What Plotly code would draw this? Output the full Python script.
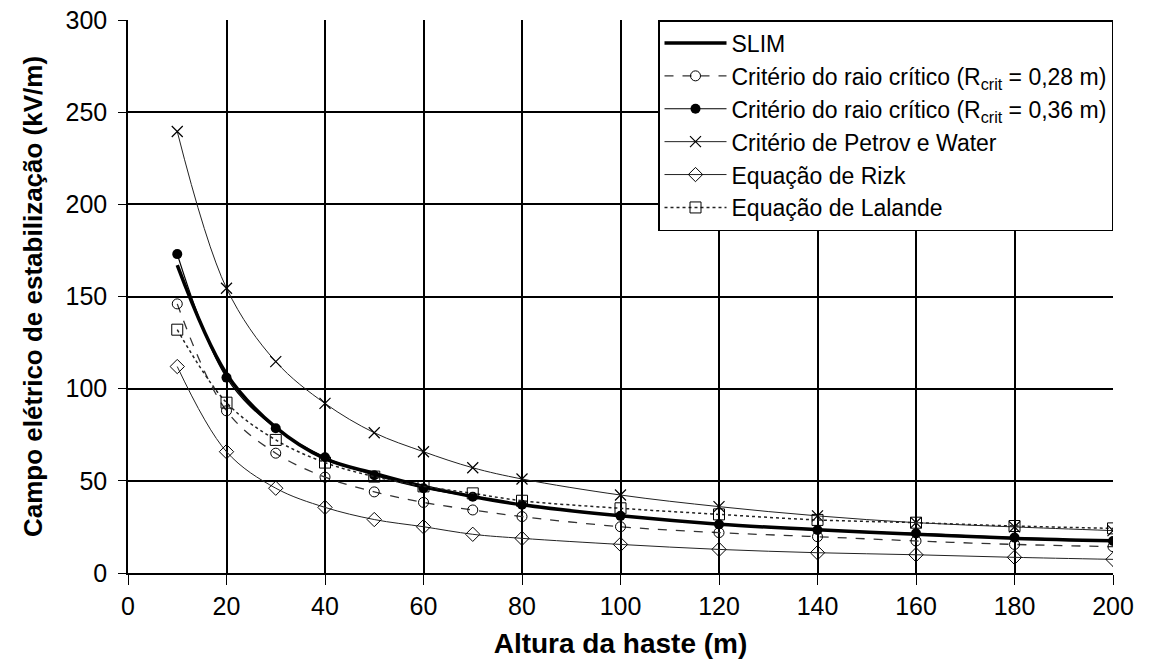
import plotly.graph_objects as go

x_vals = [10, 20, 30, 40, 50, 60, 70, 80, 100, 120, 140, 160, 180, 200]
slim = [167, 108, 79, 62, 54, 47, 41.5, 37, 31, 26.5, 23.5, 21, 18.8, 17.5]
rcrit_028 = [146, 88, 65, 52, 44, 38.3, 34.2, 30.6, 25.1, 21.9, 19.7, 17.4, 15.5, 14.3]
rcrit_036 = [173, 106, 78.5, 62.8, 53, 46, 41.4, 37, 31, 26.4, 23.3, 21.5, 19.2, 17.4]
petrov = [239.5, 154.5, 114.7, 92, 76.1, 65.8, 57.1, 51, 42.3, 36, 31, 27.3, 25, 23]
rizk = [112, 65.8, 46, 35.6, 29, 25.1, 21, 18.8, 15.5, 12.8, 11, 9.9, 8.5, 7.4]
lalande = [132, 92.4, 72.2, 59.9, 52.3, 47, 43.2, 39.2, 35.1, 31.8, 28.8, 27.3, 25.5, 24.2]

x_ticks = list(range(0, 201, 20))
y_ticks = list(range(0, 301, 50))

fig = go.Figure()

fig.add_trace(go.Scatter(x=x_vals, y=slim, mode="lines", name="SLIM",
                         line=dict(color="black", width=3.5, shape="spline")))
fig.add_trace(go.Scatter(x=x_vals, y=rcrit_028, mode="lines+markers",
                         name="Critério do raio crítico (R<sub>crit</sub> = 0,28 m)",
                         line=dict(color="#333333", width=1.3, dash="dash", shape="spline"),
                         marker=dict(symbol="circle-open", size=10, color="black", line=dict(width=1))))
fig.add_trace(go.Scatter(x=x_vals, y=rcrit_036, mode="lines+markers",
                         name="Critério do raio crítico (R<sub>crit</sub> = 0,36 m)",
                         line=dict(color="black", width=1.2, shape="spline"),
                         marker=dict(symbol="circle", size=10, color="black")))
fig.add_trace(go.Scatter(x=x_vals, y=petrov, mode="lines+markers",
                         name="Critério de Petrov e Water",
                         line=dict(color="#222222", width=1, shape="spline"),
                         marker=dict(symbol="x-thin-open", size=11, color="black", line=dict(width=1.2))))
fig.add_trace(go.Scatter(x=x_vals, y=rizk, mode="lines+markers",
                         name="Equação de Rizk",
                         line=dict(color="#222222", width=1, shape="spline"),
                         marker=dict(symbol="diamond-open", size=11, color="black", line=dict(width=1))))
fig.add_trace(go.Scatter(x=x_vals, y=lalande, mode="lines+markers",
                         name="Equação de Lalande",
                         line=dict(color="#222222", width=1.5, dash="dot", shape="spline"),
                         marker=dict(symbol="square-open", size=11, color="black", line=dict(width=1))))

fig.update_layout(
    width=1152, height=666,
    paper_bgcolor="white", plot_bgcolor="white",
    margin=dict(l=128, r=39, t=20, b=93),
    font=dict(family="Liberation Sans, Arial, sans-serif", color="black"),
    legend=dict(x=1, y=1, xanchor="right", yanchor="top",
                bgcolor="white", bordercolor="black", borderwidth=1.5,
                font=dict(size=23, color="black"), tracegroupgap=0,
                itemwidth=62),
    showlegend=True,
)
fig.update_xaxes(range=[0, 200], tickvals=x_ticks, ticktext=[str(v) for v in x_ticks],
                 automargin=False, ticklabeloverflow="allow",
                 showgrid=True, gridcolor="black", gridwidth=1.5,
                 showline=True, linecolor="black", linewidth=1.5,
                 ticks="outside", ticklen=10, tickcolor="black",
                 tickfont=dict(size=25),
                 title=dict(text="<b>Altura da haste (m)</b>", font=dict(size=28)),
                 zeroline=False)
fig.update_yaxes(range=[0, 300], tickvals=y_ticks,
                 automargin=False, ticklabeloverflow="allow",
                 showgrid=True, gridcolor="black", gridwidth=1.5,
                 showline=True, linecolor="black", linewidth=1.5,
                 ticks="outside", ticklen=8, tickcolor="black",
                 tickfont=dict(size=25), ticklabelstandoff=6,
                 title=dict(text="<b>Campo elétrico de estabilização (kV/m)</b>", font=dict(size=26)),
                 zeroline=False)

fig.write_html("out.html", config={"displayModeBar": False},
               post_script="document.body.style.margin='0';")
